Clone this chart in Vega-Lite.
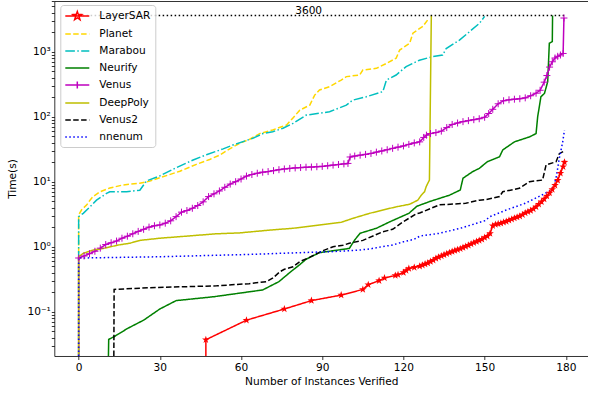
{
"$schema": "https://vega.github.io/schema/vega-lite/v6.json",
"width": 534, "height": 355,
"autosize": {"type": "none"},
"padding": {"left": 54.3, "top": 1, "right": 0, "bottom": 38},
"config": {
  "font": "DejaVu Sans",
  "view": {"stroke": null},
  "axis": {"domainColor": "#000", "domainWidth": 0.8, "tickColor": "#000", "tickWidth": 0.8, "tickSize": 3.5, "labelFontSize": 10.6, "titleFontSize": 10.6, "labelColor": "#000", "titleColor": "#000", "titleFontWeight": "normal", "grid": false, "labelPadding": 3.5, "titlePadding": 2.5, "labelFont": "DejaVu Sans", "titleFont": "DejaVu Sans"},
  "axisY": {"labelPadding": 1, "titlePadding": 9, "tickSize": 3},
  "legend": {"symbolType": "M-1,0H3", "symbolSize": 144, "symbolStrokeWidth": 1.5, "labelFontSize": 10.6, "labelFont": "DejaVu Sans", "labelColor": "#000", "labelOffset": 21, "rowPadding": 4, "padding": 4, "strokeColor": "#cccccc", "fillColor": "rgba(255,255,255,0.8)", "cornerRadius": 3}
},
"datasets": {
"ref": [{"x": 0, "x2": 180, "t": 3600, "lx": 80, "label": "3600"}],
"runs": [
{"m":"LayerSAR","x":47,"t":0.0208},{"m":"LayerSAR","x":47,"t":0.037},{"m":"LayerSAR","x":62,"t":0.074},{"m":"LayerSAR","x":76,"t":0.11},{"m":"LayerSAR","x":86,"t":0.148},{"m":"LayerSAR","x":97,"t":0.18},{"m":"LayerSAR","x":105,"t":0.22},{"m":"LayerSAR","x":107,"t":0.26},{"m":"LayerSAR","x":111,"t":0.30},{"m":"LayerSAR","x":113,"t":0.33},{"m":"LayerSAR","x":117,"t":0.36},{"m":"LayerSAR","x":118,"t":0.37},{"m":"LayerSAR","x":120,"t":0.40},{"m":"LayerSAR","x":121,"t":0.43},{"m":"LayerSAR","x":122,"t":0.46},{"m":"LayerSAR","x":124,"t":0.48},{"m":"LayerSAR","x":126,"t":0.50},{"m":"LayerSAR","x":127,"t":0.52},{"m":"LayerSAR","x":128,"t":0.54},{"m":"LayerSAR","x":129,"t":0.56},{"m":"LayerSAR","x":130,"t":0.59},{"m":"LayerSAR","x":131,"t":0.62},{"m":"LayerSAR","x":132,"t":0.66},{"m":"LayerSAR","x":133,"t":0.69},{"m":"LayerSAR","x":134,"t":0.72},{"m":"LayerSAR","x":135,"t":0.75},{"m":"LayerSAR","x":136,"t":0.78},{"m":"LayerSAR","x":137,"t":0.81},{"m":"LayerSAR","x":138,"t":0.84},{"m":"LayerSAR","x":139,"t":0.87},{"m":"LayerSAR","x":140,"t":0.90},{"m":"LayerSAR","x":141,"t":0.93},{"m":"LayerSAR","x":142,"t":0.97},{"m":"LayerSAR","x":143,"t":1.01},{"m":"LayerSAR","x":144,"t":1.05},{"m":"LayerSAR","x":145,"t":1.10},{"m":"LayerSAR","x":146,"t":1.15},{"m":"LayerSAR","x":147,"t":1.20},{"m":"LayerSAR","x":148,"t":1.25},{"m":"LayerSAR","x":149,"t":1.30},{"m":"LayerSAR","x":150,"t":1.38},{"m":"LayerSAR","x":151,"t":1.45},{"m":"LayerSAR","x":152,"t":1.6},{"m":"LayerSAR","x":153,"t":2.1},{"m":"LayerSAR","x":154,"t":2.2},{"m":"LayerSAR","x":155,"t":2.25},{"m":"LayerSAR","x":156,"t":2.3},{"m":"LayerSAR","x":157,"t":2.38},{"m":"LayerSAR","x":158,"t":2.45},{"m":"LayerSAR","x":159,"t":2.55},{"m":"LayerSAR","x":160,"t":2.65},{"m":"LayerSAR","x":161,"t":2.75},{"m":"LayerSAR","x":162,"t":2.85},{"m":"LayerSAR","x":163,"t":2.95},{"m":"LayerSAR","x":164,"t":3.1},{"m":"LayerSAR","x":165,"t":3.3},{"m":"LayerSAR","x":166,"t":3.45},{"m":"LayerSAR","x":167,"t":3.6},{"m":"LayerSAR","x":168,"t":3.8},{"m":"LayerSAR","x":169,"t":4.1},{"m":"LayerSAR","x":170,"t":4.5},{"m":"LayerSAR","x":171,"t":4.9},{"m":"LayerSAR","x":172,"t":5.4},{"m":"LayerSAR","x":173,"t":6.0},{"m":"LayerSAR","x":174,"t":6.7},{"m":"LayerSAR","x":175,"t":7.6},{"m":"LayerSAR","x":176,"t":8.8},{"m":"LayerSAR","x":177,"t":10.5},{"m":"LayerSAR","x":178,"t":13.5},{"m":"LayerSAR","x":179,"t":17},{"m":"LayerSAR","x":179.5,"t":20},
{"m":"Planet","x":0,"t":0.0208},{"m":"Planet","x":0,"t":3.07},{"m":"Planet","x":1.1,"t":3.7},{"m":"Planet","x":3,"t":4.4},{"m":"Planet","x":4.2,"t":5.2},{"m":"Planet","x":5.3,"t":5.9},{"m":"Planet","x":7.9,"t":7.0},{"m":"Planet","x":11.5,"t":8.0},{"m":"Planet","x":16.3,"t":8.9},{"m":"Planet","x":22.6,"t":9.5},{"m":"Planet","x":26.3,"t":10.2},{"m":"Planet","x":30,"t":11.5},{"m":"Planet","x":37.4,"t":14.5},{"m":"Planet","x":43.5,"t":18.5},{"m":"Planet","x":48.4,"t":22},{"m":"Planet","x":52.1,"t":25.7},{"m":"Planet","x":55.8,"t":32},{"m":"Planet","x":59.5,"t":39},{"m":"Planet","x":63.2,"t":45},{"m":"Planet","x":66.9,"t":55},{"m":"Planet","x":71.7,"t":62.6},{"m":"Planet","x":76.8,"t":74.4},{"m":"Planet","x":79.1,"t":95},{"m":"Planet","x":81.7,"t":126},{"m":"Planet","x":85.4,"t":151},{"m":"Planet","x":87.2,"t":215},{"m":"Planet","x":89,"t":258},{"m":"Planet","x":92.7,"t":290},{"m":"Planet","x":97,"t":366},{"m":"Planet","x":98.9,"t":414},{"m":"Planet","x":103.8,"t":438},{"m":"Planet","x":105,"t":522},{"m":"Planet","x":110,"t":555},{"m":"Planet","x":113.7,"t":660},{"m":"Planet","x":117.3,"t":795},{"m":"Planet","x":118.6,"t":1060},{"m":"Planet","x":122.3,"t":1350},{"m":"Planet","x":123.5,"t":1930},{"m":"Planet","x":127.2,"t":2460},{"m":"Planet","x":129,"t":3100},
{"m":"Marabou","x":0,"t":0.0208},{"m":"Marabou","x":0,"t":2.9},{"m":"Marabou","x":1.7,"t":3.26},{"m":"Marabou","x":4.2,"t":4.1},{"m":"Marabou","x":6.6,"t":5.2},{"m":"Marabou","x":10.3,"t":6.6},{"m":"Marabou","x":11.5,"t":7.0},{"m":"Marabou","x":17.7,"t":7.0},{"m":"Marabou","x":22.6,"t":7.4},{"m":"Marabou","x":25.1,"t":10.3},{"m":"Marabou","x":30,"t":12.3},{"m":"Marabou","x":36.2,"t":16.5},{"m":"Marabou","x":42.3,"t":21.6},{"m":"Marabou","x":47.2,"t":26},{"m":"Marabou","x":53.4,"t":32},{"m":"Marabou","x":56.9,"t":36.6},{"m":"Marabou","x":64.3,"t":46.4},{"m":"Marabou","x":68.1,"t":55},{"m":"Marabou","x":71.7,"t":58.7},{"m":"Marabou","x":75.5,"t":66.4},{"m":"Marabou","x":79.2,"t":79},{"m":"Marabou","x":84.1,"t":106},{"m":"Marabou","x":92.7,"t":119},{"m":"Marabou","x":98.9,"t":151},{"m":"Marabou","x":101.3,"t":180},{"m":"Marabou","x":106.3,"t":203},{"m":"Marabou","x":112.4,"t":243},{"m":"Marabou","x":113.7,"t":366},{"m":"Marabou","x":117.3,"t":438},{"m":"Marabou","x":121,"t":590},{"m":"Marabou","x":125.9,"t":740},{"m":"Marabou","x":130.8,"t":840},{"m":"Marabou","x":134.5,"t":890},{"m":"Marabou","x":135.8,"t":1120},{"m":"Marabou","x":140.7,"t":1510},{"m":"Marabou","x":144.4,"t":2030},{"m":"Marabou","x":148.1,"t":2740},{"m":"Marabou","x":150,"t":3500},
{"m":"Neurify","x":11,"t":0.0208},{"m":"Neurify","x":11.1,"t":0.0375},{"m":"Neurify","x":13,"t":0.041},{"m":"Neurify","x":18,"t":0.055},{"m":"Neurify","x":24,"t":0.074},{"m":"Neurify","x":30,"t":0.11},{"m":"Neurify","x":36,"t":0.148},{"m":"Neurify","x":50,"t":0.17},{"m":"Neurify","x":68,"t":0.216},{"m":"Neurify","x":74,"t":0.29},{"m":"Neurify","x":78,"t":0.40},{"m":"Neurify","x":81.7,"t":0.53},{"m":"Neurify","x":84,"t":0.64},{"m":"Neurify","x":89,"t":0.81},{"m":"Neurify","x":100,"t":0.94},{"m":"Neurify","x":102,"t":1.27},{"m":"Neurify","x":104,"t":1.61},{"m":"Neurify","x":110,"t":1.92},{"m":"Neurify","x":115,"t":2.42},{"m":"Neurify","x":122,"t":3.26},{"m":"Neurify","x":125,"t":4.2},{"m":"Neurify","x":130,"t":5.0},{"m":"Neurify","x":137,"t":6.2},{"m":"Neurify","x":141,"t":7.45},{"m":"Neurify","x":142,"t":11.3},{"m":"Neurify","x":145.6,"t":14.3},{"m":"Neurify","x":148,"t":16},{"m":"Neurify","x":151,"t":20.3},{"m":"Neurify","x":155.5,"t":24.2},{"m":"Neurify","x":156.7,"t":30.8},{"m":"Neurify","x":161,"t":41},{"m":"Neurify","x":166.6,"t":49},{"m":"Neurify","x":169,"t":55},{"m":"Neurify","x":169.6,"t":100},{"m":"Neurify","x":170.8,"t":203},{"m":"Neurify","x":172.1,"t":228},{"m":"Neurify","x":173.3,"t":345},{"m":"Neurify","x":173.9,"t":1350},{"m":"Neurify","x":175,"t":1430},{"m":"Neurify","x":175.1,"t":3600},
{"m":"Venus","x":0,"t":0.0208},{"m":"Venus","x":0,"t":0.67},{"m":"Venus","x":2,"t":0.72},{"m":"Venus","x":4,"t":0.78},{"m":"Venus","x":6,"t":0.85},{"m":"Venus","x":8,"t":0.95},{"m":"Venus","x":10,"t":1.08},{"m":"Venus","x":12,"t":1.15},{"m":"Venus","x":14,"t":1.22},{"m":"Venus","x":16,"t":1.35},{"m":"Venus","x":18,"t":1.45},{"m":"Venus","x":20,"t":1.58},{"m":"Venus","x":22,"t":1.72},{"m":"Venus","x":24,"t":1.85},{"m":"Venus","x":26,"t":2.0},{"m":"Venus","x":28,"t":2.1},{"m":"Venus","x":30,"t":2.16},{"m":"Venus","x":32,"t":2.3},{"m":"Venus","x":34,"t":2.5},{"m":"Venus","x":36,"t":2.9},{"m":"Venus","x":38,"t":3.4},{"m":"Venus","x":40,"t":3.6},{"m":"Venus","x":42,"t":3.9},{"m":"Venus","x":44,"t":4.3},{"m":"Venus","x":46,"t":4.9},{"m":"Venus","x":48,"t":5.9},{"m":"Venus","x":50,"t":6.5},{"m":"Venus","x":52,"t":7.2},{"m":"Venus","x":54,"t":8.2},{"m":"Venus","x":56,"t":9.2},{"m":"Venus","x":58,"t":10},{"m":"Venus","x":60,"t":11},{"m":"Venus","x":62,"t":12.2},{"m":"Venus","x":64,"t":12.9},{"m":"Venus","x":66,"t":13.5},{"m":"Venus","x":68,"t":14},{"m":"Venus","x":70,"t":14.3},{"m":"Venus","x":72,"t":14.8},{"m":"Venus","x":74,"t":15.3},{"m":"Venus","x":76,"t":15.7},{"m":"Venus","x":78,"t":16},{"m":"Venus","x":80,"t":16.3},{"m":"Venus","x":82,"t":16.5},{"m":"Venus","x":84,"t":16.7},{"m":"Venus","x":86,"t":16.8},{"m":"Venus","x":88,"t":17},{"m":"Venus","x":90,"t":17.2},{"m":"Venus","x":92,"t":17.6},{"m":"Venus","x":94,"t":18},{"m":"Venus","x":96,"t":18.4},{"m":"Venus","x":98,"t":18.8},{"m":"Venus","x":99.5,"t":19.1},{"m":"Venus","x":100.3,"t":24},{"m":"Venus","x":102,"t":24.8},{"m":"Venus","x":104,"t":25.6},{"m":"Venus","x":106,"t":26.3},{"m":"Venus","x":108,"t":27.2},{"m":"Venus","x":110,"t":28.5},{"m":"Venus","x":112,"t":29.7},{"m":"Venus","x":114,"t":31},{"m":"Venus","x":116,"t":32.6},{"m":"Venus","x":118,"t":34},{"m":"Venus","x":120,"t":35.5},{"m":"Venus","x":122,"t":37.5},{"m":"Venus","x":124,"t":39.5},{"m":"Venus","x":126,"t":41},{"m":"Venus","x":127.5,"t":48},{"m":"Venus","x":128.5,"t":52},{"m":"Venus","x":130,"t":55},{"m":"Venus","x":132,"t":57},{"m":"Venus","x":134,"t":60},{"m":"Venus","x":136,"t":68},{"m":"Venus","x":138,"t":76},{"m":"Venus","x":140,"t":80},{"m":"Venus","x":142,"t":84},{"m":"Venus","x":144,"t":87},{"m":"Venus","x":146,"t":90},{"m":"Venus","x":148,"t":93},{"m":"Venus","x":150,"t":98},{"m":"Venus","x":151.5,"t":112},{"m":"Venus","x":153,"t":130},{"m":"Venus","x":155,"t":158},{"m":"Venus","x":157,"t":176},{"m":"Venus","x":159,"t":182},{"m":"Venus","x":161,"t":186},{"m":"Venus","x":163,"t":189},{"m":"Venus","x":165,"t":195},{"m":"Venus","x":167,"t":210},{"m":"Venus","x":169,"t":230},{"m":"Venus","x":170.5,"t":255},{"m":"Venus","x":172,"t":340},{"m":"Venus","x":173,"t":430},{"m":"Venus","x":174,"t":580},{"m":"Venus","x":175,"t":700},{"m":"Venus","x":176,"t":800},{"m":"Venus","x":177,"t":850},{"m":"Venus","x":178,"t":890},{"m":"Venus","x":179,"t":940},{"m":"Venus","x":179.3,"t":3300},
{"m":"DeepPoly","x":0,"t":0.0208},{"m":"DeepPoly","x":0,"t":0.70},{"m":"DeepPoly","x":1.7,"t":0.79},{"m":"DeepPoly","x":5.4,"t":0.89},{"m":"DeepPoly","x":9.1,"t":0.94},{"m":"DeepPoly","x":14.6,"t":1.06},{"m":"DeepPoly","x":18.9,"t":1.13},{"m":"DeepPoly","x":22.6,"t":1.25},{"m":"DeepPoly","x":30,"t":1.35},{"m":"DeepPoly","x":34.9,"t":1.4},{"m":"DeepPoly","x":42.3,"t":1.48},{"m":"DeepPoly","x":50.9,"t":1.58},{"m":"DeepPoly","x":59.5,"t":1.63},{"m":"DeepPoly","x":70.6,"t":1.8},{"m":"DeepPoly","x":79.2,"t":1.92},{"m":"DeepPoly","x":89,"t":2.16},{"m":"DeepPoly","x":97,"t":2.37},{"m":"DeepPoly","x":101.3,"t":2.73},{"m":"DeepPoly","x":107.5,"t":3.26},{"m":"DeepPoly","x":112.4,"t":3.67},{"m":"DeepPoly","x":117.3,"t":4.1},{"m":"DeepPoly","x":122.3,"t":4.5},{"m":"DeepPoly","x":125.3,"t":5.2},{"m":"DeepPoly","x":126.6,"t":6.2},{"m":"DeepPoly","x":127.8,"t":7.0},{"m":"DeepPoly","x":128.4,"t":8.4},{"m":"DeepPoly","x":129.6,"t":10.6},{"m":"DeepPoly","x":130.3,"t":3600},
{"m":"Venus2","x":13,"t":0.0208},{"m":"Venus2","x":13.1,"t":0.22},{"m":"Venus2","x":26,"t":0.234},{"m":"Venus2","x":51,"t":0.25},{"m":"Venus2","x":63,"t":0.27},{"m":"Venus2","x":69.4,"t":0.29},{"m":"Venus2","x":71.8,"t":0.33},{"m":"Venus2","x":74.3,"t":0.41},{"m":"Venus2","x":76,"t":0.45},{"m":"Venus2","x":79.2,"t":0.49},{"m":"Venus2","x":81.7,"t":0.59},{"m":"Venus2","x":84.5,"t":0.66},{"m":"Venus2","x":90.3,"t":0.87},{"m":"Venus2","x":94,"t":1.0},{"m":"Venus2","x":97.6,"t":1.05},{"m":"Venus2","x":100,"t":1.13},{"m":"Venus2","x":105,"t":1.25},{"m":"Venus2","x":112.4,"t":1.7},{"m":"Venus2","x":116,"t":1.85},{"m":"Venus2","x":119.8,"t":2.4},{"m":"Venus2","x":124.7,"t":3.2},{"m":"Venus2","x":126,"t":3.3},{"m":"Venus2","x":133.3,"t":4.4},{"m":"Venus2","x":143,"t":4.65},{"m":"Venus2","x":148,"t":5.2},{"m":"Venus2","x":150.6,"t":5.3},{"m":"Venus2","x":155.5,"t":5.9},{"m":"Venus2","x":156.7,"t":7.0},{"m":"Venus2","x":162.8,"t":7.9},{"m":"Venus2","x":166.6,"t":10},{"m":"Venus2","x":171.4,"t":10.6},{"m":"Venus2","x":172.7,"t":18.1},{"m":"Venus2","x":176.4,"t":20.3},{"m":"Venus2","x":177.6,"t":27},{"m":"Venus2","x":179,"t":29},
{"m":"nnenum","x":0,"t":0.0208},{"m":"nnenum","x":0,"t":0.69},{"m":"nnenum","x":1,"t":0.67},{"m":"nnenum","x":30,"t":0.70},{"m":"nnenum","x":63,"t":0.76},{"m":"nnenum","x":82,"t":0.81},{"m":"nnenum","x":94,"t":0.84},{"m":"nnenum","x":104,"t":0.89},{"m":"nnenum","x":108,"t":0.93},{"m":"nnenum","x":112,"t":1.0},{"m":"nnenum","x":116,"t":1.06},{"m":"nnenum","x":120,"t":1.19},{"m":"nnenum","x":124,"t":1.3},{"m":"nnenum","x":126,"t":1.45},{"m":"nnenum","x":128,"t":1.5},{"m":"nnenum","x":133,"t":1.6},{"m":"nnenum","x":137,"t":1.75},{"m":"nnenum","x":141,"t":1.92},{"m":"nnenum","x":147,"t":2.29},{"m":"nnenum","x":150,"t":2.5},{"m":"nnenum","x":152,"t":2.9},{"m":"nnenum","x":158,"t":3.67},{"m":"nnenum","x":165,"t":4.65},{"m":"nnenum","x":170,"t":5.9},{"m":"nnenum","x":174,"t":7.2},{"m":"nnenum","x":175.5,"t":8.4},{"m":"nnenum","x":176.5,"t":12},{"m":"nnenum","x":177.5,"t":22},{"m":"nnenum","x":178.8,"t":40},{"m":"nnenum","x":179.5,"t":62}
]
},
"layer": [
{
 "data": {"name": "runs"},
 "mark": {"type": "line", "strokeWidth": 1.5},
 "encoding": {
  "x": {"field": "x", "type": "quantitative", "scale": {"domain": [-9, 188.3], "nice": false, "zero": false},
        "axis": {"orient": "bottom", "values": [0, 30, 60, 90, 120, 150, 180], "title": "Number of Instances Verified"}},
  "y": {"field": "t", "type": "quantitative", "scale": {"type": "log", "domain": [0.0208, 6030], "nice": false},
        "axis": {"title": "Time(s)", "labelOverlap": false,
          "values": [0.03,0.04,0.05,0.06,0.07,0.08,0.09,0.1,0.2,0.3,0.4,0.5,0.6,0.7,0.8,0.9,1,2,3,4,5,6,7,8,9,10,20,30,40,50,60,70,80,90,100,200,300,400,500,600,700,800,900,1000,2000,3000,4000,5000,6000],
          "labelExpr": "datum.value == 0.1 ? '10⁻¹' : datum.value == 1 ? '10⁰' : datum.value == 10 ? '10¹' : datum.value == 100 ? '10²' : datum.value == 1000 ? '10³' : ''"}},
  "color": {"field": "m", "type": "nominal",
     "scale": {"domain": ["LayerSAR","Planet","Marabou","Neurify","Venus","DeepPoly","Venus2","nnenum"],
               "range": ["#ff0000","#ffd700","#00bfbf","#008000","#bf00bf","#bfbf00","#000000","#0000ff"]},
     "legend": {"title": null, "orient": "none", "legendX": 6, "legendY": 4}},
  "strokeDash": {"field": "m", "type": "nominal",
     "scale": {"domain": ["LayerSAR","Planet","Marabou","Neurify","Venus","DeepPoly","Venus2","nnenum"],
               "range": [[1,0],[5.5,2.4],[9.6,2.4,1.5,2.4],[1,0],[1,0],[1,0],[5.5,2.4],[1.5,2.5]]},
     "legend": {"title": null, "orient": "none", "legendX": 6, "legendY": 4}}
 }
},
{
 "data": {"name": "runs"},
 "transform": [{"filter": "datum.t < 0"}],
 "mark": {"type": "point", "filled": false, "strokeWidth": 1.5, "opacity": 1},
 "encoding": {
  "x": {"field": "x", "type": "quantitative", "axis": null},
  "y": {"field": "t", "type": "quantitative"},
  "color": {"field": "m", "type": "nominal", "legend": {"title": null, "orient": "none", "legendX": 6, "legendY": 4}},
  "shape": {"field": "m", "type": "nominal",
     "scale": {"domain": ["LayerSAR","Planet","Marabou","Neurify","Venus","DeepPoly","Venus2","nnenum"],
               "range": ["M-1,0H3M1,-0.75L1.176,-0.243L1.713,-0.232L1.285,0.093L1.441,0.607L1,0.3L0.559,0.607L0.715,0.093L0.287,-0.232L0.824,-0.243Z","M-1,0H3","M-1,0H3","M-1,0H3","M-1,0H3M1,-0.6V0.6","M-1,0H3","M-1,0H3","M-1,0H3"]},
     "legend": {"title": null, "orient": "none", "legendX": 6, "legendY": 4}}
 }
},
{
 "data": {"name": "ref"},
 "mark": {"type": "rule", "strokeDash": [1.5, 2.5], "strokeWidth": 1.5, "color": "#000000"},
 "encoding": {"x": {"field": "x", "type": "quantitative", "axis": null}, "x2": {"field": "x2"}, "y": {"field": "t", "type": "quantitative"}}
},
{
 "data": {"name": "ref"},
 "mark": {"type": "text", "align": "left", "baseline": "alphabetic", "dy": -1.5, "fontSize": 10.6, "color": "#000000"},
 "encoding": {"x": {"field": "lx", "type": "quantitative", "axis": {"orient": "top", "labels": false, "ticks": false, "title": null, "domain": true}}, "y": {"field": "t", "type": "quantitative"}, "text": {"field": "label"}}
},
{
 "data": {"name": "runs"},
 "transform": [{"filter": "datum.m == 'LayerSAR' && datum.t > 0.03"}],
 "mark": {"type": "point", "shape": "M0,-1L0.235,-0.324L0.951,-0.309L0.38,0.124L0.588,0.809L0,0.4L-0.588,0.809L-0.38,0.124L-0.951,-0.309L-0.235,-0.324Z", "filled": true, "size": 64, "color": "#ff0000", "opacity": 1},
 "encoding": {"x": {"field": "x", "type": "quantitative", "axis": null}, "y": {"field": "t", "type": "quantitative"}}
},
{
 "data": {"name": "runs"},
 "transform": [{"filter": "datum.m == 'Venus' && datum.t > 0.03"}],
 "mark": {"type": "point", "shape": "M-1,0H1M0,-1V1", "filled": false, "size": 49, "strokeWidth": 1, "color": "#bf00bf", "opacity": 1},
 "encoding": {"x": {"field": "x", "type": "quantitative", "axis": null}, "y": {"field": "t", "type": "quantitative"}}
}
],
"resolve": {"axis": {"x": "independent"}}
}
